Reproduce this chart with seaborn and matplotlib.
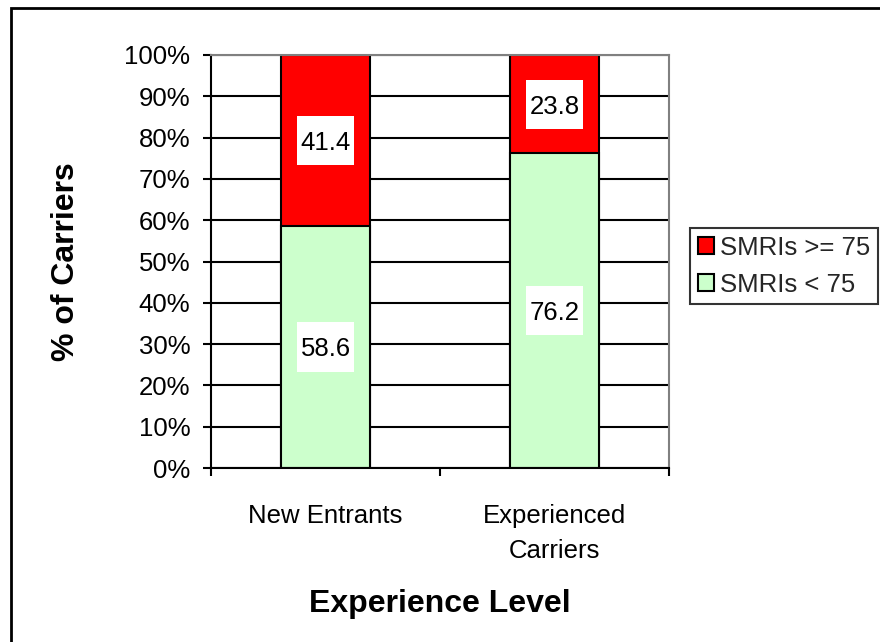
import matplotlib
matplotlib.use("Agg")
import matplotlib.pyplot as plt
import pandas as pd
import seaborn as sns
from matplotlib.patches import Patch, Rectangle
from matplotlib.ticker import FixedLocator, FuncFormatter

categories = ["New Entrants", "Experienced\nCarriers"]
smri_low = [58.6, 76.2]    # SMRIs < 75
smri_high = [41.4, 23.8]   # SMRIs >= 75
y_ticks = list(range(0, 101, 10))

RED = "#FF0000"
GREEN = "#CCFFCC"
FS = 18.5

df = pd.DataFrame({"Experience": categories, "low": smri_low, "high": smri_high})
df["total"] = df["low"] + df["high"]

sns.set_theme(style="white")
plt.rcParams["font.family"] = ["Liberation Sans", "DejaVu Sans"]

fig = plt.figure(figsize=(8.8, 6.42), dpi=100)
ax = fig.add_axes([211 / 880, 1 - 468 / 642, 458 / 880, 413 / 642])

# stacked: draw full height in red, then the lower part in green on top
sns.barplot(data=df, x="Experience", y="total", order=categories, color=RED,
            width=0.39, edgecolor="black", linewidth=1.5, saturation=1, ax=ax)
sns.barplot(data=df, x="Experience", y="low", order=categories, color=GREEN,
            width=0.39, edgecolor="black", linewidth=1.5, saturation=1, ax=ax)

ax.set_ylim(0, 100)
ax.set_xlim(-0.5, 1.5)
ax.set_axisbelow(True)
ax.yaxis.grid(True, color="black", linewidth=1.5)
ax.xaxis.grid(False)

ax.set_yticks(y_ticks)
ax.yaxis.set_major_formatter(FuncFormatter(lambda v, p: f"{int(v)}%"))
ax.tick_params(axis="y", which="major", direction="out", length=6, width=1.5,
               color="black", left=True, labelsize=FS, pad=9, labelcolor="black")

# x: ticks at category boundaries, labels centred under bars
ax.xaxis.set_major_locator(FixedLocator([-0.5, 0.5, 1.5]))
ax.xaxis.set_major_formatter(FuncFormatter(lambda v, p: ""))
ax.xaxis.set_minor_locator(FixedLocator([0, 1]))
ax.set_xticklabels(categories, minor=True)
ax.tick_params(axis="x", which="major", direction="out", length=6, width=1.5,
               color="black", bottom=True)
ax.tick_params(axis="x", which="minor", length=0, labelsize=FS, pad=26,
               labelcolor="black")
for tick in ax.xaxis.get_minor_ticks():
    tick.label1.set_linespacing(1.56)

for side in ["left", "bottom"]:
    ax.spines[side].set_color("black")
    ax.spines[side].set_linewidth(1.5)
for side in ["top", "right"]:
    ax.spines[side].set_color("#808080")
    ax.spines[side].set_linewidth(1.5)

ax.set_xlabel("Experience Level", fontsize=23, fontweight="bold", color="black")
ax.set_ylabel("% of Carriers", fontsize=23, fontweight="bold", color="black")
ax.xaxis.set_label_coords(0.5, (468 - 589) / 413)
ax.yaxis.set_label_coords((81 - 211) / 458, 0.5)

# value labels on white boxes, centred in each segment
box_w, box_h = 0.253, 11.9
for i, (lo, hi) in enumerate(zip(smri_low, smri_high)):
    for yc, v in [(lo / 2, lo), (lo + hi / 2, hi)]:
        ax.add_patch(Rectangle((i - box_w / 2, yc - box_h / 2), box_w, box_h,
                               facecolor="white", edgecolor="none", zorder=5))
        ax.text(i, yc, f"{v:.1f}", ha="center", va="center_baseline",
                fontsize=FS, color="black", zorder=6)

handles = [Patch(facecolor=RED, edgecolor="black", linewidth=1.5, label="SMRIs >= 75"),
           Patch(facecolor=GREEN, edgecolor="black", linewidth=1.5, label="SMRIs < 75")]
leg = fig.legend(handles=handles, loc="upper left",
                 bbox_to_anchor=(690 / 880, 1 - 228 / 642), fontsize=FS,
                 frameon=True, fancybox=False, handlelength=0.65, handleheight=0.65,
                 handletextpad=0.2, borderpad=0.3, labelspacing=0.5,
                 borderaxespad=0)
leg.get_frame().set_edgecolor("black")
leg.get_frame().set_linewidth(1.5)
leg.get_frame().set_facecolor("white")

# outer chart border (only left and top visible in the crop)
fig.patches.append(Rectangle((11 / 880, -0.2), 1.2, 1.2 - 8 / 642,
                             transform=fig.transFigure, fill=False,
                             edgecolor="black", linewidth=2))

fig.savefig("out.png", dpi=100)
